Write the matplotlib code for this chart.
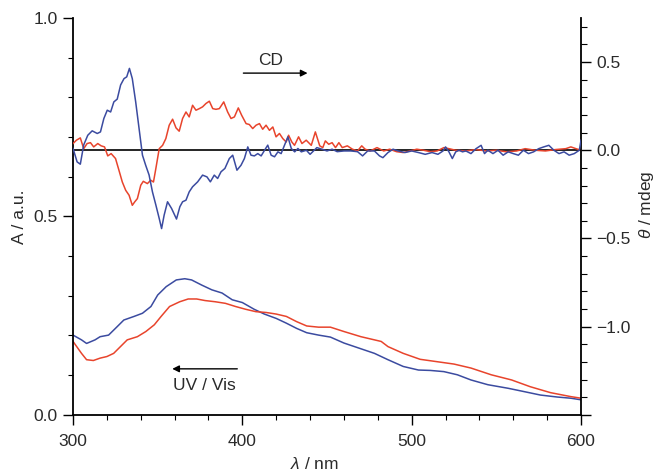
import matplotlib
matplotlib.use("Agg")
import matplotlib.pyplot as plt
from matplotlib.ticker import MultipleLocator, FormatStrFormatter, FixedLocator, FuncFormatter

plt.rcParams['font.family'] = ['Liberation Sans', 'DejaVu Sans']
plt.rcParams['mathtext.fontset'] = 'custom'
plt.rcParams['mathtext.rm'] = 'Liberation Sans'
plt.rcParams['mathtext.it'] = 'Liberation Sans:italic'

# ---------------- data ----------------
# UV/Vis absorbance (left axis)
uv_blue_nm = [300, 305, 308, 313, 316, 321, 326, 330, 336, 341, 346, 350, 355, 361, 366, 370,
              376, 382, 388, 394, 400, 407, 413, 420, 426, 432, 438, 445, 452, 460, 469, 478,
              486, 495, 504, 511, 519, 527, 535, 545, 557, 566, 576, 586, 594, 600]
uv_blue_A = [0.201, 0.189, 0.180, 0.189, 0.197, 0.201, 0.222, 0.239, 0.248, 0.256, 0.273, 0.302,
             0.323, 0.340, 0.343, 0.340, 0.327, 0.315, 0.307, 0.290, 0.283, 0.266, 0.254, 0.243,
             0.231, 0.218, 0.207, 0.201, 0.196, 0.181, 0.168, 0.155, 0.139, 0.122, 0.113, 0.112,
             0.109, 0.101, 0.088, 0.076, 0.067, 0.059, 0.050, 0.045, 0.042, 0.038]

uv_red_nm = [300, 305, 308, 312, 316, 320, 324, 328, 332, 338, 343, 348, 352, 357, 363, 368,
             373, 378, 384, 390, 396, 402, 408, 414, 420, 426, 432, 438, 445, 452, 460, 470,
             482, 486, 495, 505, 515, 525, 535, 547, 559, 570, 582, 594, 600]
uv_red_A = [0.185, 0.155, 0.139, 0.137, 0.143, 0.147, 0.155, 0.172, 0.189, 0.197, 0.210, 0.227,
            0.248, 0.273, 0.285, 0.292, 0.292, 0.288, 0.285, 0.281, 0.273, 0.266, 0.260, 0.258,
            0.254, 0.248, 0.235, 0.224, 0.221, 0.221, 0.210, 0.197, 0.185, 0.172, 0.155, 0.140,
            0.134, 0.128, 0.118, 0.101, 0.088, 0.071, 0.056, 0.046, 0.042]

# CD ellipticity (right axis, mdeg)
cd_blue_nm = [300.0, 302.4, 304.3, 306.3, 308.7, 311.3, 314.3, 316.2, 318.2, 320.2, 322.2, 324.1,
              326.1, 328.1, 330.1, 331.7, 333.3, 335.0, 337.0, 339.0, 341.0, 342.9, 344.9, 346.9,
              348.9, 350.9, 352.3, 353.8, 355.8, 358.2, 361.1, 363.1, 364.7, 366.7, 368.6, 370.6,
              373.6, 376.5, 379.1, 381.1, 383.4, 385.4, 387.4, 389.7, 392.3, 394.3, 396.8, 399.2,
              401.2, 403.2, 405.1, 407.1, 409.1, 411.1, 413.1, 415.0, 417.0, 419.0, 421.0, 422.9,
              424.9, 426.9, 428.9, 430.9, 432.8, 434.8, 437.8, 440, 442, 444, 447, 450, 453, 456,
              460, 464, 468, 471, 474, 478, 481, 483, 486, 489, 492, 496, 500, 504, 508, 512,
              515.5, 518.5, 520, 522, 524, 526, 528, 530, 532, 535, 538, 541, 543, 545, 548, 551,
              554, 557, 560, 563, 566, 569, 572, 575, 578, 581, 584, 587, 590, 593, 596, 599, 600]
cd_blue = [0.010, -0.066, -0.079, 0.030, 0.085, 0.110, 0.095, 0.104, 0.180, 0.227, 0.217, 0.274,
           0.290, 0.370, 0.406, 0.416, 0.464, 0.406, 0.274, 0.123, -0.028, -0.085, -0.140, -0.236,
           -0.310, -0.387, -0.444, -0.368, -0.292, -0.330, -0.390, -0.320, -0.292, -0.283, -0.236,
           -0.207, -0.179, -0.141, -0.151, -0.179, -0.141, -0.160, -0.122, -0.103, -0.047, -0.028,
           -0.113, -0.085, -0.047, 0.019, -0.028, -0.032, -0.019, -0.032, 0.000, 0.029, -0.028,
           -0.037, -0.009, -0.019, 0.029, 0.076, 0.010, -0.009, 0.010, -0.009, 0.000, -0.023,
           -0.004, 0.015, 0.006, -0.004, 0.006, -0.008, -0.004, -0.004, -0.008, -0.032, -0.004,
           -0.004, -0.032, -0.042, -0.013, 0.006, -0.004, -0.013, -0.004, -0.013, -0.023, -0.013,
           -0.023, -0.004, 0.019, -0.009, -0.047, -0.009, 0.000, -0.009, -0.004, -0.019, 0.009,
           0.028, -0.019, 0.000, -0.019, 0.000, -0.028, -0.009, -0.019, -0.028, 0.000, -0.019,
           -0.009, 0.009, 0.019, 0.028, 0.000, -0.019, -0.009, -0.028, -0.019, 0.000, 0.057]

cd_red_nm = [300.0, 302.0, 304.3, 306.3, 308.3, 310.3, 312.2, 314.6, 316.6, 318.6, 320.5, 322.5,
             325.1, 327.1, 329.1, 331.1, 333.1, 335.0, 336.4, 338.0, 340.0, 341.5, 343.9, 345.9,
             347.5, 348.9, 350.9, 352.9, 354.8, 356.8, 358.8, 360.8, 362.7, 364.7, 366.7, 368.6,
             370.6, 372.6, 374.6, 376.5, 378.5, 380.5, 382.5, 384.4, 386.4, 389.0, 391.3, 393.3,
             395.3, 397.6, 399.6, 402.2, 404.1, 406.1, 408.1, 410.1, 412.0, 414.0, 416.0, 418.0,
             419.9, 421.9, 423.9, 425.9, 427.3, 429.2, 430.8, 433.2, 435.2, 437.7, 440.7, 443.1,
             445.7, 447.5, 449, 451, 453, 455, 457, 459, 462, 465, 468, 470.5, 472.5, 475.5,
             479.5, 483.5, 487, 491, 495, 499, 503, 507, 511, 515, 519, 522, 526, 532, 538, 544,
             550, 556, 562, 567, 573, 579, 585, 591, 594, 597, 600]
cd_red = [0.038, 0.057, 0.070, 0.009, 0.038, 0.043, 0.019, 0.038, 0.025, 0.019, -0.032, -0.019,
          -0.047, -0.113, -0.180, -0.227, -0.255, -0.312, -0.293, -0.274, -0.198, -0.176, -0.189,
          -0.170, -0.180, -0.104, 0.009, 0.028, 0.066, 0.142, 0.176, 0.127, 0.108, 0.180, 0.217,
          0.189, 0.255, 0.227, 0.236, 0.246, 0.265, 0.278, 0.236, 0.232, 0.236, 0.274, 0.217,
          0.180, 0.189, 0.240, 0.198, 0.151, 0.146, 0.123, 0.142, 0.151, 0.119, 0.142, 0.113,
          0.132, 0.076, 0.095, 0.066, 0.047, 0.085, 0.047, 0.028, 0.076, 0.038, 0.057, 0.028,
          0.104, 0.025, 0.015, 0.053, 0.034, 0.043, 0.015, 0.043, 0.015, 0.025, 0.006, -0.004,
          0.025, 0.006, -0.004, 0.015, -0.004, 0.006, -0.008, -0.013, -0.004, 0.006, 0.000,
          -0.008, -0.004, 0.015, 0.009, 0.000, -0.004, 0.004, -0.004, 0.000, -0.009, -0.004,
          0.009, 0.000, -0.004, 0.004, 0.009, 0.019, 0.009, 0.000]

x_ticks = [300, 400, 500, 600]
left_ticks = [0.0, 0.5, 1.0]
right_ticks = [-1.5, -1.0, -0.5, 0.0, 0.5]
right_labelled = [-1.0, -0.5, 0.0, 0.5]

# ---------------- plot ----------------
RED = '#e8442c'
BLUE = '#3b4ba0'
TXT = '#2a2a2a'
FS = 12.5

fig = plt.figure(figsize=(6.58, 4.72), dpi=100)
ax = fig.add_axes([0.111, 0.121, 0.772, 0.841])
ax2 = ax.twinx()

ax.plot(uv_blue_nm, uv_blue_A, color=BLUE, lw=1.1)
ax.plot(uv_red_nm, uv_red_A, color=RED, lw=1.1)

ax2.axhline(0, color='black', lw=1.2, zorder=1)
ax2.plot(cd_red_nm, cd_red, color=RED, lw=1.1, zorder=2)
ax2.plot(cd_blue_nm, cd_blue, color=BLUE, lw=1.1, zorder=3)

ax.set_xlim(300, 600)
ax.set_ylim(0, 1.0)
ax2.set_ylim(-1.5, 0.75)

for a in (ax, ax2):
    a.spines['top'].set_visible(False)
    for s in a.spines.values():
        s.set_linewidth(1.3)
ax.spines['right'].set_visible(False)
ax2.spines['left'].set_visible(False)
ax2.spines['bottom'].set_visible(False)


def right_fmt(v, pos):
    if min(abs(v - t) for t in right_labelled) > 1e-6:
        return ''
    return ('%.1f' % v).replace('-', '\u2212')


ax.xaxis.set_major_locator(FixedLocator(x_ticks))
ax.xaxis.set_minor_locator(MultipleLocator(20))
ax.yaxis.set_major_locator(FixedLocator(left_ticks))
ax.yaxis.set_minor_locator(MultipleLocator(0.1))
ax.yaxis.set_major_formatter(FormatStrFormatter('%.1f'))
ax2.yaxis.set_major_locator(FixedLocator(right_ticks))
ax2.yaxis.set_minor_locator(MultipleLocator(0.1))
ax2.yaxis.set_major_formatter(FuncFormatter(right_fmt))

ax.tick_params(axis='y', which='major', direction='out', length=7, width=1.0, pad=4,
               labelsize=FS, labelcolor=TXT)
ax.tick_params(axis='y', which='minor', direction='out', length=3.5, width=0.8)
ax.tick_params(axis='x', which='major', direction='out', length=7, width=1.0, pad=7,
               labelsize=FS, labelcolor=TXT)
ax.tick_params(axis='x', which='minor', direction='out', length=3.5, width=0.8)
ax2.tick_params(axis='y', which='major', direction='out', length=7, width=1.0, pad=4,
                labelsize=FS, labelcolor=TXT)
ax2.tick_params(axis='y', which='minor', direction='out', length=4, width=0.8)

ax.set_ylabel('A / a.u.', fontsize=FS, color=TXT)
ax.yaxis.set_label_coords(-0.091, 0.5)
ax2.set_ylabel(r'$\mathit{\theta}$ / mdeg', fontsize=FS, color=TXT, rotation=90)
ax2.yaxis.set_label_coords(1.11, 0.53)
ax.set_xlabel(r'$\mathit{\lambda}$ / nm', fontsize=FS, color=TXT)
ax.xaxis.set_label_coords(0.475, -0.103)

ax.text(416.6, 0.892, 'CD', fontsize=FS, color=TXT, ha='center', va='center')
ax.annotate('', xy=(438.5, 0.861), xytext=(400.6, 0.861),
            arrowprops=dict(arrowstyle='-|>', lw=1.0, color='black', mutation_scale=10,
                            shrinkA=0, shrinkB=0))
ax.text(377.5, 0.073, 'UV / Vis', fontsize=FS, color=TXT, ha='center', va='center')
ax.annotate('', xy=(358.6, 0.116), xytext=(397.0, 0.116),
            arrowprops=dict(arrowstyle='-|>', lw=1.0, color='black', mutation_scale=10,
                            shrinkA=0, shrinkB=0))

fig.savefig('out.png', dpi=100)
